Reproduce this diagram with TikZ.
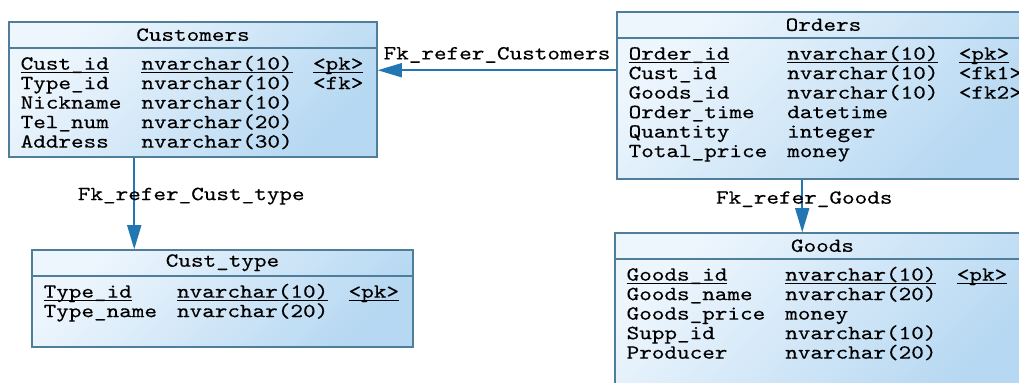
\documentclass[tikz,border=0pt]{standalone}
\usepackage{fontspec}
\usepackage{tikz}
\usetikzlibrary{arrows.meta, positioning, fit, matrix}
\newfontfamily\erfont[FakeStretch=1.2, FakeBold=0.3]{lmmono10-regular.otf}
\definecolor{erLight}{HTML}{EEF6FD}
\definecolor{erDeep}{HTML}{B6D8F2}
\definecolor{erFrame}{HTML}{4F7E9B}
\definecolor{erArrow}{HTML}{2276B2}
\newcommand{\pkfield}[1]{\underline{\smash{#1}}}

\begin{document}
\begin{tikzpicture}[
    x=0.5pt, y=-0.5pt,
    entity/.style={
        rectangle,
        draw=erFrame,
        line width=0.75pt,
        inner sep=0pt,
        top color=erLight,
        bottom color=erDeep,
        shading angle=45
    },
    headrule/.style={
        draw=erFrame,
        line width=0.75pt
    },
    title/.style={
        font=\erfont,
        inner sep=0pt
    },
    fields/.style={
        matrix of nodes,
        inner sep=0pt,
        column sep=10pt,
        row sep=0.75pt,
        nodes={anchor=base west, inner sep=0pt, text height=7pt, text depth=2pt, font=\erfont}
    },
    fk/.style={
        -{Triangle[length=12pt, width=7pt]},
        draw=erArrow,
        line width=0.8pt
    },
    fklabel/.style={
        font=\erfont,
        text=black
    }
]

\useasboundingbox (0,0) rectangle (1019,383);
\clip (0,0) rectangle (1019,383);
\fill[white] (0,0) rectangle (1019,383);

% Tables
\node[entity, fit={(9,22) (377,157)}] (customers) {};
\node[entity, fit={(617,12) (1030,179)}] (orders) {};
\node[entity, fit={(32,250) (413,347)}] (custtype) {};
\node[entity, fit={(615,233) (1030,395)}] (goods) {};

% Title bands
\foreach \tab/\title in {customers/Customers, orders/Orders, custtype/Cust\_type, goods/Goods} {
    \draw[headrule] ([yshift=-13.5pt]\tab.north west) -- ([yshift=-13.5pt]\tab.north east);
    \node[title] (\tab-title) at ([yshift=-6.75pt]\tab.north) {\title};
}

% Columns
\matrix[fields, below right=17pt and 6pt of customers.north west] (customers-fields) {
    \pkfield{Cust\_id} & \pkfield{nvarchar(10)} & \pkfield{<pk>} \\
    Type\_id & nvarchar(10) & <fk> \\
    Nickname & nvarchar(10) & \\
    Tel\_num & nvarchar(20) & \\
    Address & nvarchar(30) & \\
};

\matrix[fields, below right=17pt and 6pt of orders.north west] (orders-fields) {
    \pkfield{Order\_id} & \pkfield{nvarchar(10)} & \pkfield{<pk>} \\
    Cust\_id & nvarchar(10) & <fk1> \\
    Goods\_id & nvarchar(10) & <fk2> \\
    Order\_time & datetime & \\
    Quantity & integer & \\
    Total\_price & money & \\
};

\matrix[fields, below right=17pt and 6pt of custtype.north west] (custtype-fields) {
    \pkfield{Type\_id} & \pkfield{nvarchar(10)} & \pkfield{<pk>} \\
    Type\_name & nvarchar(20) & \\
};

\matrix[fields, below right=17pt and 6pt of goods.north west] (goods-fields) {
    \pkfield{Goods\_id} & \pkfield{nvarchar(10)} & \pkfield{<pk>} \\
    Goods\_name & nvarchar(20) & \\
    Goods\_price & money & \\
    Supp\_id & nvarchar(10) & \\
    Producer & nvarchar(20) & \\
};

% References
\path (orders.north west) ++(0,59) coordinate (custfk);
\path (customers.south west) ++(126,0) coordinate (typefk);
\path (orders.south west) ++(186,0) coordinate (goodsfk);

\draw[fk] (custfk) -- (custfk -| customers.east)
    node[fklabel, midway, above] (custfk-label) {Fk\_refer\_Customers};
\draw[fk] (typefk) -- (typefk |- custtype.north)
    node[fklabel, pos=0.42, xshift=28.5pt] (typefk-label) {Fk\_refer\_Cust\_type};
\draw[fk] (goodsfk) -- (goodsfk |- goods.north)
    node[fklabel, pos=0.37, xshift=1pt] (goodsfk-label) {Fk\_refer\_Goods};

\end{tikzpicture}
\end{document}
